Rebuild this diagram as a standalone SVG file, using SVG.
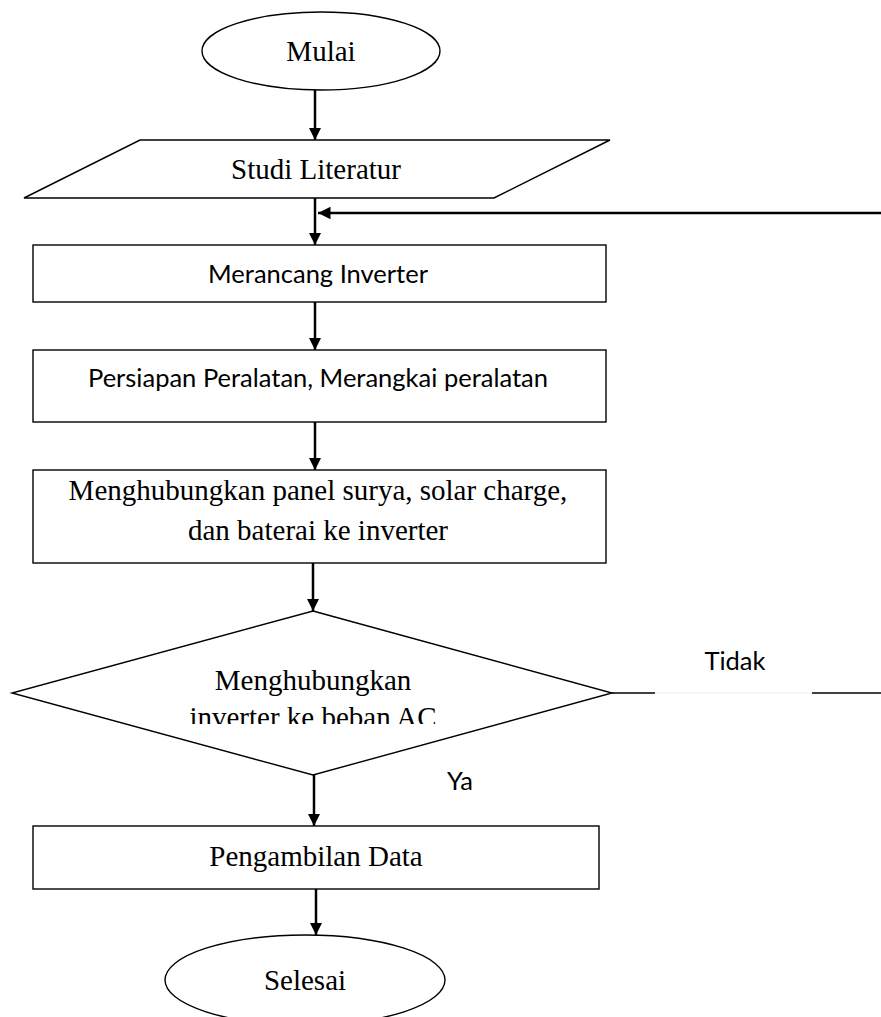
<svg xmlns="http://www.w3.org/2000/svg" width="881" height="1017" viewBox="0 0 881 1017">
<style>
.s{fill:#fff;stroke:#000;stroke-width:1.4}
.t{font-family:"Liberation Serif",serif;font-size:29px;fill:#000;text-anchor:middle}
.c{font-family:Lato,"Open Sans",sans-serif;font-size:25.5px;fill:#000;text-anchor:middle}
.l{stroke:#000;stroke-width:2.5;fill:none}
.n{stroke:#000;stroke-width:1.4;fill:none}
</style>
<defs>
<marker id="a" viewBox="0 0 10 10" refX="10" refY="5" markerWidth="5" markerHeight="5" orient="auto" markerUnits="strokeWidth">
<path d="M0,0 L10,5 L0,10 z" fill="#000"/>
</marker>
<clipPath id="cl"><rect x="0" y="600" width="881" height="124"/></clipPath>
</defs>
<rect width="881" height="1017" fill="#fff"/>
<g id="connectors">
<line class="l" x1="315" y1="90" x2="315" y2="140" marker-end="url(#a)"/>
<line class="l" x1="315" y1="198" x2="315" y2="245" marker-end="url(#a)"/>
<line class="l" x1="881" y1="213" x2="318" y2="213" marker-end="url(#a)"/>
<line class="l" x1="315" y1="302" x2="315" y2="350" marker-end="url(#a)"/>
<line class="l" x1="315" y1="422" x2="315" y2="470" marker-end="url(#a)"/>
<line class="l" x1="313" y1="563" x2="313" y2="611" marker-end="url(#a)"/>
<line class="l" x1="314" y1="775" x2="314" y2="826" marker-end="url(#a)"/>
<line class="l" x1="316" y1="889" x2="316" y2="935" marker-end="url(#a)"/>
<line class="n" x1="612" y1="693" x2="655" y2="693"/>
<line x1="655" y1="693" x2="812" y2="693" stroke="#eee" stroke-width="1"/>
<line class="n" x1="812" y1="693" x2="881" y2="693"/>
<text class="c" x="735" y="670" font-size="22.5">Tidak</text>
<text class="c" x="460" y="790" font-size="22.5">Ya</text>
</g>
<g id="mulai">
<ellipse class="s" cx="321" cy="51" rx="119" ry="39"/>
<text class="t" x="321" y="61">Mulai</text>
</g>
<g id="studi">
<polygon class="s" points="140,140 610,140 494,198 24,198" stroke-width="1.1"/>
<text class="t" x="316" y="179">Studi Literatur</text>
</g>
<g id="merancang">
<rect class="s" x="33" y="245" width="573" height="57"/>
<text class="c" x="318" y="283">Merancang Inverter</text>
</g>
<g id="persiapan">
<rect class="s" x="33" y="350" width="573" height="72"/>
<text class="c" x="318" y="387">Persiapan Peralatan, Merangkai peralatan</text>
</g>
<g id="menghubungkan">
<rect class="s" x="33" y="470" width="573" height="93"/>
<text class="t" x="318" y="500">Menghubungkan panel surya, solar charge,</text>
<text class="t" x="318" y="540">dan baterai ke inverter</text>
</g>
<g id="keputusan">
<polygon class="s" points="313,611 612,693 313,775 12,693" stroke-width="2"/>
<g clip-path="url(#cl)">
<text class="t" x="313" y="690">Menghubungkan</text>
<text class="t" x="313" y="727">inverter ke beban AC</text>
</g>
</g>
<g id="pengambilan">
<rect class="s" x="33" y="826" width="566" height="63" stroke-width="2.4"/>
<text class="t" x="316" y="866">Pengambilan Data</text>
</g>
<g id="selesai">
<ellipse class="s" cx="305" cy="980" rx="140" ry="45"/>
<text class="t" x="305" y="990" font-size="30">Selesai</text>
</g>
</svg>
